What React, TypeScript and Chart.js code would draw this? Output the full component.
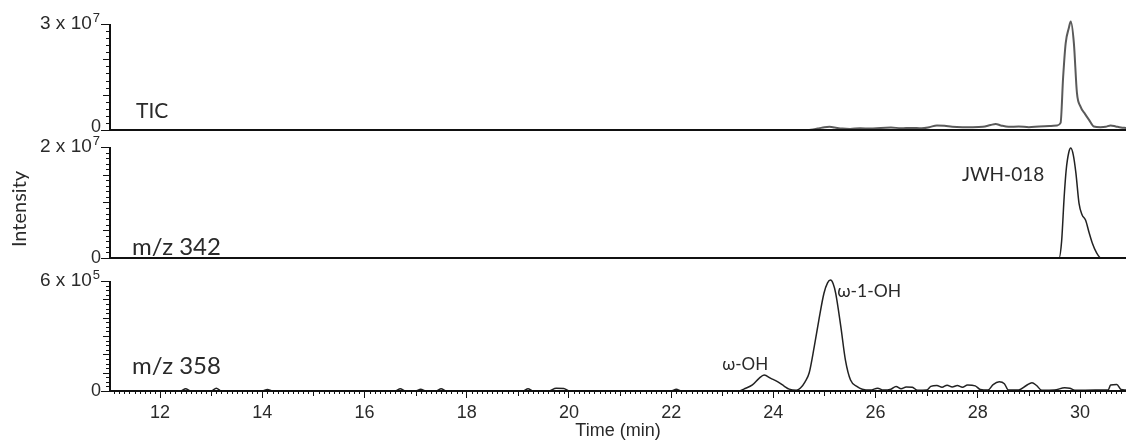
import { useEffect, useRef } from 'react';
import { Chart, registerables } from 'chart.js';

Chart.register(...registerables);

// ---- Chromatogram traces (time in min, intensity in counts) ----

// Total ion current
const ticTime = [
  11.0, 24.7, 24.8, 24.9, 25.0, 25.1, 25.2, 25.35, 25.5, 25.7, 25.9, 26.1, 26.3, 26.5, 26.7, 26.9,
  27.05, 27.2, 27.35, 27.5, 27.7, 27.9, 28.1, 28.25, 28.35, 28.45, 28.6, 28.8, 29.0, 29.2, 29.4,
  29.55, 29.62, 29.67, 29.72, 29.78, 29.82, 29.88, 29.94, 30.01, 30.1, 30.18, 30.27, 30.4, 30.5,
  30.6, 30.7, 30.8, 30.9,
];
const ticIntensity = [
  0, 0, 0.02e7, 0.05e7, 0.08e7, 0.09e7, 0.07e7, 0.04e7, 0.03e7, 0.05e7, 0.04e7, 0.06e7, 0.07e7,
  0.05e7, 0.06e7, 0.05e7, 0.08e7, 0.13e7, 0.12e7, 0.09e7, 0.08e7, 0.08e7, 0.09e7, 0.14e7, 0.17e7,
  0.13e7, 0.09e7, 0.1e7, 0.08e7, 0.1e7, 0.11e7, 0.13e7, 0.2e7, 1.5e7, 2.46e7, 2.88e7, 3.07e7,
  2.46e7, 1.05e7, 0.66e7, 0.45e7, 0.28e7, 0.1e7, 0.08e7, 0.09e7, 0.13e7, 0.1e7, 0.07e7, 0.06e7,
];

// Extracted ion m/z 342
const mz342Time = [
  11.0, 29.59, 29.64, 29.69, 29.73, 29.78, 29.82, 29.87, 29.92, 29.98, 30.04, 30.11, 30.18, 30.24,
  30.32, 30.41, 30.9,
];
const mz342Intensity = [
  0, 0, 0.3e7, 1.1e7, 1.59e7, 1.9e7, 1.98e7, 1.85e7, 1.53e7, 0.99e7, 0.78e7, 0.68e7, 0.45e7,
  0.27e7, 0.1e7, 0, 0,
];

// Extracted ion m/z 358
const mz358Time = [
  11.0, 12.4, 12.5, 12.6, 13.0, 13.1, 13.2, 14.0, 14.1, 14.2, 16.6, 16.7, 16.8, 17.0, 17.1, 17.2,
  17.4, 17.5, 17.6, 19.1, 19.2, 19.3, 19.6, 19.75, 19.9, 20.0, 22.0, 22.1, 22.2, 23.3, 23.46,
  23.59, 23.72, 23.82, 23.95, 24.08, 24.21, 24.31, 24.45, 24.53, 24.62, 24.7, 24.8, 24.89, 24.99,
  25.06, 25.12, 25.17, 25.22, 25.32, 25.41, 25.51, 25.64, 25.74, 25.9, 26.04, 26.15, 26.3, 26.4,
  26.5, 26.6, 26.72, 26.82, 27.0, 27.08, 27.2, 27.3, 27.4, 27.5, 27.6, 27.7, 27.8, 27.95, 28.05,
  28.2, 28.3, 28.42, 28.52, 28.6, 28.8, 28.95, 29.06, 29.15, 29.25, 29.5, 29.7, 29.8, 29.9, 30.3,
  30.55, 30.6, 30.72, 30.8, 30.9,
];
const mz358Intensity = [
  0, 0, 0.12e5, 0, 0, 0.15e5, 0, 0, 0.08e5, 0, 0, 0.12e5, 0, 0, 0.1e5, 0,
  0, 0.12e5, 0, 0, 0.12e5, 0, 0, 0.15e5, 0.14e5, 0, 0, 0.1e5, 0, 0, 0.15e5,
  0.33e5, 0.69e5, 0.87e5, 0.69e5, 0.51e5, 0.27e5, 0.1e5, 0.04e5, 0.16e5, 0.5e5, 0.98e5, 2.42e5,
  3.87e5, 5.33e5, 5.9e5, 6.05e5, 5.85e5, 5.33e5, 3.51e5, 1.69e5, 0.6e5, 0.24e5, 0.1e5, 0.05e5,
  0.15e5, 0.05e5, 0.1e5, 0.25e5, 0.12e5, 0.22e5, 0.2e5, 0.04e5, 0.05e5, 0.25e5, 0.3e5, 0.2e5,
  0.32e5, 0.22e5, 0.3e5, 0.2e5, 0.33e5, 0.28e5, 0.08e5, 0.05e5, 0.35e5, 0.5e5, 0.4e5, 0.05e5,
  0.06e5, 0.3e5, 0.45e5, 0.3e5, 0.04e5, 0.05e5, 0.18e5, 0.15e5, 0.04e5, 0.05e5, 0.05e5, 0.33e5,
  0.36e5, 0.08e5, 0.05e5,
];

// Labelled time ticks (min)
const timeTicks = [12, 14, 16, 18, 20, 22, 24, 26, 28, 30];

// Per-panel intensity axes: full-scale tick and its label
const panelTop = [3e7, 2e7, 6e5];
const panelMantissa = ['3 x 10', '2 x 10', '6 x 10'];
const panelExponent = ['7', '7', '5'];

const SANS = '"Liberation Sans", Arial, sans-serif';
const HUMAN = 'Lato, "Open Sans", sans-serif';
const INK = '#2a2a2a';

const panels = [
  { id: 'yTic', minor: 0.2e7, major: 1e7 },
  { id: 'y342', minor: 0.1e7, major: 0.5e7 },
  { id: 'y358', minor: 0.25e5, major: 1e5 },
];

// Trace and peak annotations, placed in data coordinates of their panel
const notes = [
  { text: 'TIC', axis: 'yTic', x: 11.53, y: 0.54e7, align: 'left' as CanvasTextAlign, size: 21 },
  { text: 'm/z 342', axis: 'y342', x: 11.45, y: 0.2e7, align: 'left' as CanvasTextAlign, size: 24 },
  { text: 'm/z 358', axis: 'y358', x: 11.45, y: 1.36e5, align: 'left' as CanvasTextAlign, size: 24 },
  { text: 'JWH-018', axis: 'y342', x: 29.3, y: 1.5e7, align: 'right' as CanvasTextAlign, size: 19 },
  { text: 'ω-OH', axis: 'y358', x: 23.45, y: 1.47e5, align: 'center' as CanvasTextAlign, size: 17 },
  { text: 'ω-1-OH', axis: 'y358', x: 25.25, y: 5.45e5, align: 'left' as CanvasTextAlign, size: 17.5 },
];

const toPoints = (t: number[], v: number[]) => t.map((x, i) => ({ x, y: v[i] }));

const decorPlugin = {
  id: 'chromDecor',
  afterDraw(chart: any) {
    const { ctx, chartArea: area } = chart;
    const xs = chart.scales.x;
    ctx.save();
    ctx.strokeStyle = '#111';
    ctx.lineWidth = 1;

    // minor time ticks
    for (let k = Math.ceil(xs.min * 10); k <= Math.floor(xs.max * 10); k++) {
      if (k % 20 === 0) continue;
      const len = k % 10 === 0 ? 5 : 3;
      const px = Math.round(xs.getPixelForValue(k / 10)) + 0.5;
      ctx.beginPath();
      ctx.moveTo(px, area.bottom);
      ctx.lineTo(px, area.bottom + len);
      ctx.stroke();
    }

    panels.forEach((p, idx) => {
      const ys = chart.scales[p.id];
      const top = panelTop[idx];
      const y0 = ys.getPixelForValue(0);
      const yTop = ys.getPixelForValue(top);
      const left = area.left;

      ctx.strokeStyle = '#111';
      ctx.lineWidth = 2;
      ctx.beginPath();
      ctx.moveTo(left, y0);
      ctx.lineTo(area.right, y0);
      ctx.stroke();
      ctx.beginPath();
      ctx.moveTo(left, y0 + 1);
      ctx.lineTo(left, yTop);
      ctx.stroke();

      ctx.lineWidth = 1;
      const n = Math.round(top / p.minor);
      for (let i = 0; i <= n; i++) {
        const v = i * p.minor;
        const r = v / p.major;
        const len = i === 0 || i === n ? 9 : Math.abs(r - Math.round(r)) < 1e-6 ? 7 : 4;
        const py = Math.round(ys.getPixelForValue(v)) + 0.5;
        ctx.beginPath();
        ctx.moveTo(left - len, py);
        ctx.lineTo(left, py);
        ctx.stroke();
      }

      ctx.fillStyle = INK;
      ctx.textBaseline = 'middle';
      ctx.textAlign = 'right';
      ctx.font = `18px ${SANS}`;
      ctx.fillText('0', left - 9, y0 - (idx === 0 ? 3 : 0));
      ctx.font = `13px ${SANS}`;
      const supW = ctx.measureText(panelExponent[idx]).width;
      ctx.fillText(panelExponent[idx], left - 10, yTop - 6);
      ctx.font = `19px ${SANS}`;
      ctx.fillText(panelMantissa[idx], left - 11 - supW, yTop);
    });

    // vertical intensity title
    ctx.save();
    ctx.translate(20, 209);
    ctx.rotate(-Math.PI / 2);
    ctx.font = `20px ${HUMAN}`;
    ctx.textAlign = 'center';
    ctx.textBaseline = 'middle';
    ctx.fillStyle = INK;
    ctx.fillText('Intensity', 0, 0);
    ctx.restore();

    for (const n of notes) {
      const ys = chart.scales[n.axis];
      ctx.font = `${n.size}px ${HUMAN}`;
      ctx.textAlign = n.align;
      ctx.textBaseline = 'middle';
      ctx.fillStyle = INK;
      ctx.fillText(n.text, xs.getPixelForValue(n.x), ys.getPixelForValue(n.y));
    }
    ctx.restore();
  },
};

const yAxis = (max: number, weight: number) => ({
  type: 'linear' as const,
  position: 'left' as const,
  stack: 'traces',
  stackWeight: weight,
  min: 0,
  max,
  grid: { display: false, drawTicks: false },
  border: { display: false },
  ticks: { display: false },
  afterFit: (s: any) => {
    s.width = 110;
  },
});

export default function App() {
  const canvasRef = useRef<HTMLCanvasElement>(null);

  useEffect(() => {
    if (!canvasRef.current) return;
    const chart = new Chart(canvasRef.current, {
      type: 'line',
      data: {
        datasets: [
          {
            label: 'TIC',
            data: toPoints(ticTime, ticIntensity),
            yAxisID: 'yTic',
            borderColor: '#5a5a5a',
            borderWidth: 2,
          },
          {
            label: 'm/z 342',
            data: toPoints(mz342Time, mz342Intensity),
            yAxisID: 'y342',
            borderColor: '#222',
            borderWidth: 1.5,
          },
          {
            label: 'm/z 358',
            data: toPoints(mz358Time, mz358Intensity),
            yAxisID: 'y358',
            borderColor: '#222',
            borderWidth: 1.5,
          },
        ].map((d) => ({
          ...d,
          xAxisID: 'x',
          pointRadius: 0,
          fill: false,
          cubicInterpolationMode: 'monotone' as const,
        })),
      },
      options: {
        responsive: false,
        animation: false,
        events: [],
        layout: { padding: { top: 12, left: 0, right: 0, bottom: 0 } },
        plugins: { legend: { display: false }, tooltip: { enabled: false } },
        scales: {
          x: {
            type: 'linear',
            min: 11.02,
            max: 30.9,
            afterBuildTicks: (s: any) => {
              s.ticks = timeTicks.map((value) => ({ value }));
            },
            afterFit: (s: any) => {
              s.height = 53;
            },
            ticks: {
              autoSkip: false,
              maxRotation: 0,
              padding: 4,
              color: INK,
              font: { family: SANS, size: 18 },
              callback: (v: any) => String(v),
            },
            grid: {
              display: true,
              drawOnChartArea: false,
              drawTicks: true,
              tickLength: 7,
              color: '#111',
              lineWidth: 1,
            },
            border: { display: true, color: '#111', width: 2 },
            title: {
              display: true,
              text: 'Time (min)',
              color: INK,
              font: { family: SANS, size: 18 },
              padding: { top: 0, bottom: 2 },
            },
          },
          // stacked panels: bottom trace first, top trace last
          y358: yAxis(7.255e5, 133),
          y342: yAxis(2.306e7, 128),
          yTic: yAxis(3.34e7, 118),
        },
      },
      plugins: [decorPlugin],
    });
    return () => chart.destroy();
  }, []);

  return (
    <div style={{ position: 'absolute', left: 0, top: 0, width: 1126, height: 444, background: '#fff' }}>
      <canvas ref={canvasRef} width={1126} height={444} />
    </div>
  );
}
